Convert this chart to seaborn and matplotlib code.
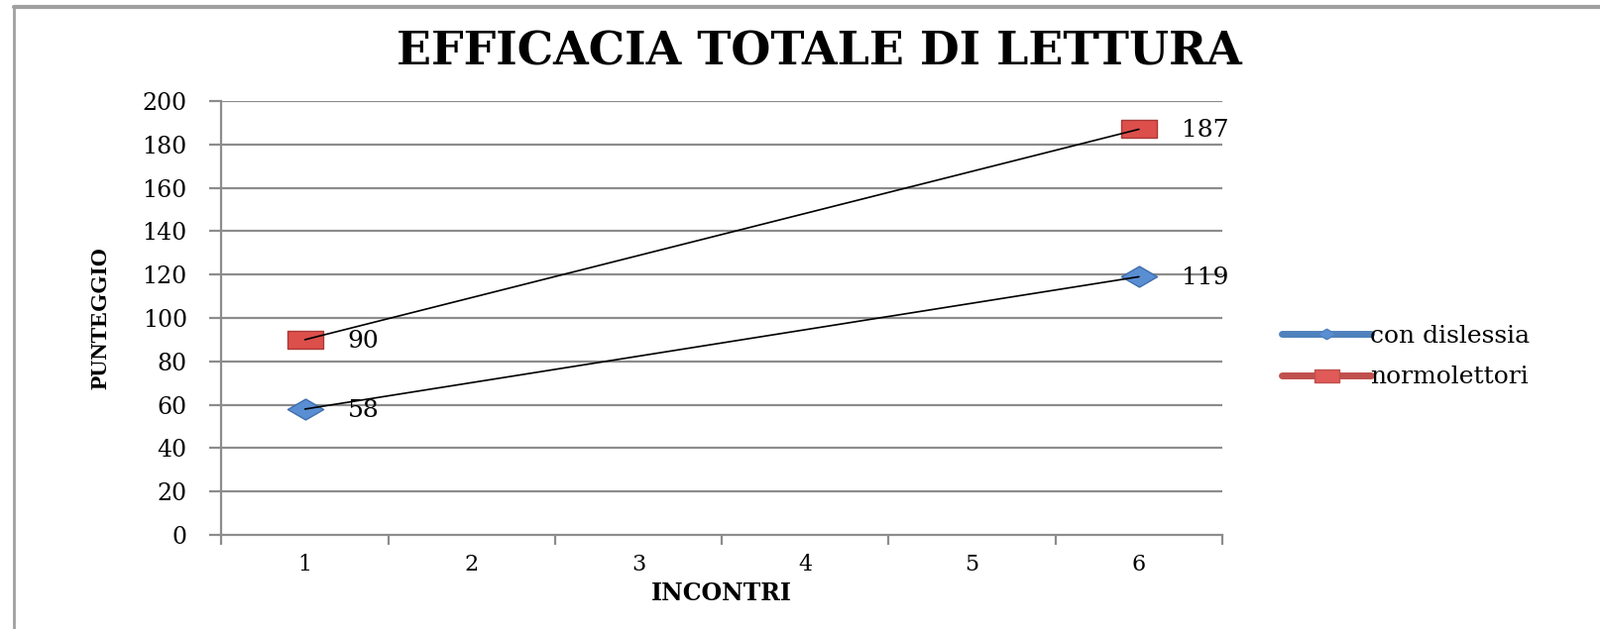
import numpy as np
import pandas as pd
import matplotlib
matplotlib.use("Agg")
import matplotlib.pyplot as plt
from matplotlib.lines import Line2D
from matplotlib.path import Path
import seaborn as sns

# ---- data ----
incontri = [1, 2, 3, 4, 5, 6]
con_dislessia = [58, np.nan, np.nan, np.nan, np.nan, 119]
normolettori = [90, np.nan, np.nan, np.nan, np.nan, 187]
series_names = ["con dislessia", "normolettori"]
yticks = [0, 20, 40, 60, 80, 100, 120, 140, 160, 180, 200]

blue = "#4F81BD"
red = "#C0504D"
grid_c = "#8C8C8C"
fills = {series_names[0]: "#5A8ED2", series_names[1]: "#DC4F4B"}
edges = {series_names[0]: "#3F6FAE", series_names[1]: "#A93A37"}

sns.set_theme(style="white")
plt.rcParams["font.family"] = ["DejaVu Serif"]
plt.rcParams["text.color"] = "black"
plt.rcParams["axes.labelcolor"] = "black"
plt.rcParams["xtick.color"] = "black"
plt.rcParams["ytick.color"] = "black"

# flattened marker shapes (Excel chart look)
diamond = Path([(-1, 0), (0, 0.58), (1, 0), (0, -0.58), (-1, 0)],
               [Path.MOVETO, Path.LINETO, Path.LINETO, Path.LINETO, Path.CLOSEPOLY])
rect = Path([(-1, -0.52), (1, -0.52), (1, 0.52), (-1, 0.52), (-1, -0.52)],
            [Path.MOVETO, Path.LINETO, Path.LINETO, Path.LINETO, Path.CLOSEPOLY])

df = pd.DataFrame({
    "x": incontri * 2,
    "y": con_dislessia + normolettori,
    "serie": [series_names[0]] * 6 + [series_names[1]] * 6,
})

fig = plt.figure(figsize=(16.15, 6.35), dpi=100)
ax = fig.add_axes([223.5 / 1615, 1 - 540 / 635, (1233 - 223.5) / 1615, (540 - 102) / 635])

# outer chart frame (top and left edges visible)
fig.add_artist(plt.Line2D([14 / 1615, 1.0], [1 - 7 / 635, 1 - 7 / 635],
                          transform=fig.transFigure, color="#A0A0A0", lw=3))
fig.add_artist(plt.Line2D([14 / 1615, 14 / 1615], [0.0, 1 - 7 / 635],
                          transform=fig.transFigure, color="#A0A0A0", lw=2))

# gridlines
for v in yticks[1:]:
    ax.axhline(v, color=grid_c, lw=1.6, zorder=0)

# markers
for name, mk in zip(series_names, [diamond, rect]):
    d = df[(df["serie"] == name)].dropna()
    sns.scatterplot(data=d, x="x", y="y", color=fills[name], marker=mk,
                    s=680, edgecolor=edges[name], linewidth=1.0, ax=ax, zorder=2,
                    legend=False)

# trendlines
for name in series_names:
    d = df[(df["serie"] == name)].dropna()
    sns.regplot(data=d, x="x", y="y", ax=ax, ci=None, scatter=False,
                truncate=True, line_kws=dict(color="black", lw=1.2, zorder=3))

# data labels
for name in series_names:
    d = df[(df["serie"] == name)].dropna()
    for xv, yv in zip(d["x"], d["y"]):
        ax.annotate(f"{int(yv)}", (xv, yv), xytext=(31, -1), textcoords="offset points",
                    ha="left", va="center", fontsize=18, color="black")

ax.set_xlim(0.5, 6.5)
ax.set_ylim(0, 200)
ax.set_yticks(yticks)
ax.set_yticklabels([str(v) for v in yticks])
ax.set_xticks(incontri)
ax.set_xticklabels([str(v) for v in incontri])
ax.set_xticks(np.arange(0.5, 7.0, 1.0), minor=True)
ax.tick_params(axis="x", which="major", length=0, pad=14, labelsize=16)
ax.tick_params(axis="x", which="minor", length=7, width=1.6, color=grid_c, direction="out", bottom=True)
ax.tick_params(axis="y", which="major", length=9, width=1.6, color=grid_c, direction="out",
               left=True, labelsize=17, pad=16)

for s in ["top", "right"]:
    ax.spines[s].set_visible(False)
for s in ["left", "bottom"]:
    ax.spines[s].set_color(grid_c)
    ax.spines[s].set_linewidth(1.6)

ax.set_xlabel("INCONTRI", fontsize=17, fontweight="bold", labelpad=4)
ax.set_ylabel("PUNTEGGIO", fontsize=17, fontweight="bold", family="Liberation Serif", labelpad=22)

fig.text(826 / 1615, 1 - 52 / 635, "EFFICACIA TOTALE DI LETTURA", ha="center", va="center",
         fontsize=33, fontweight="bold", color="black")

handles = [
    Line2D([], [], color=blue, lw=5, marker=diamond, markersize=13, markerfacecolor="#5A8ED2",
           markeredgecolor=blue, solid_capstyle="round"),
    Line2D([], [], color=red, lw=5, marker=rect, markersize=18, markerfacecolor="#E05A57",
           markeredgecolor=red, solid_capstyle="round"),
]
fig.legend(handles, series_names, loc="center left", bbox_to_anchor=(1280 / 1615, 1 - 360 / 635),
           frameon=False, fontsize=18, handlelength=3.6, handletextpad=0.0,
           labelspacing=0.75, borderpad=0)

fig.savefig("out.png", dpi=100)
